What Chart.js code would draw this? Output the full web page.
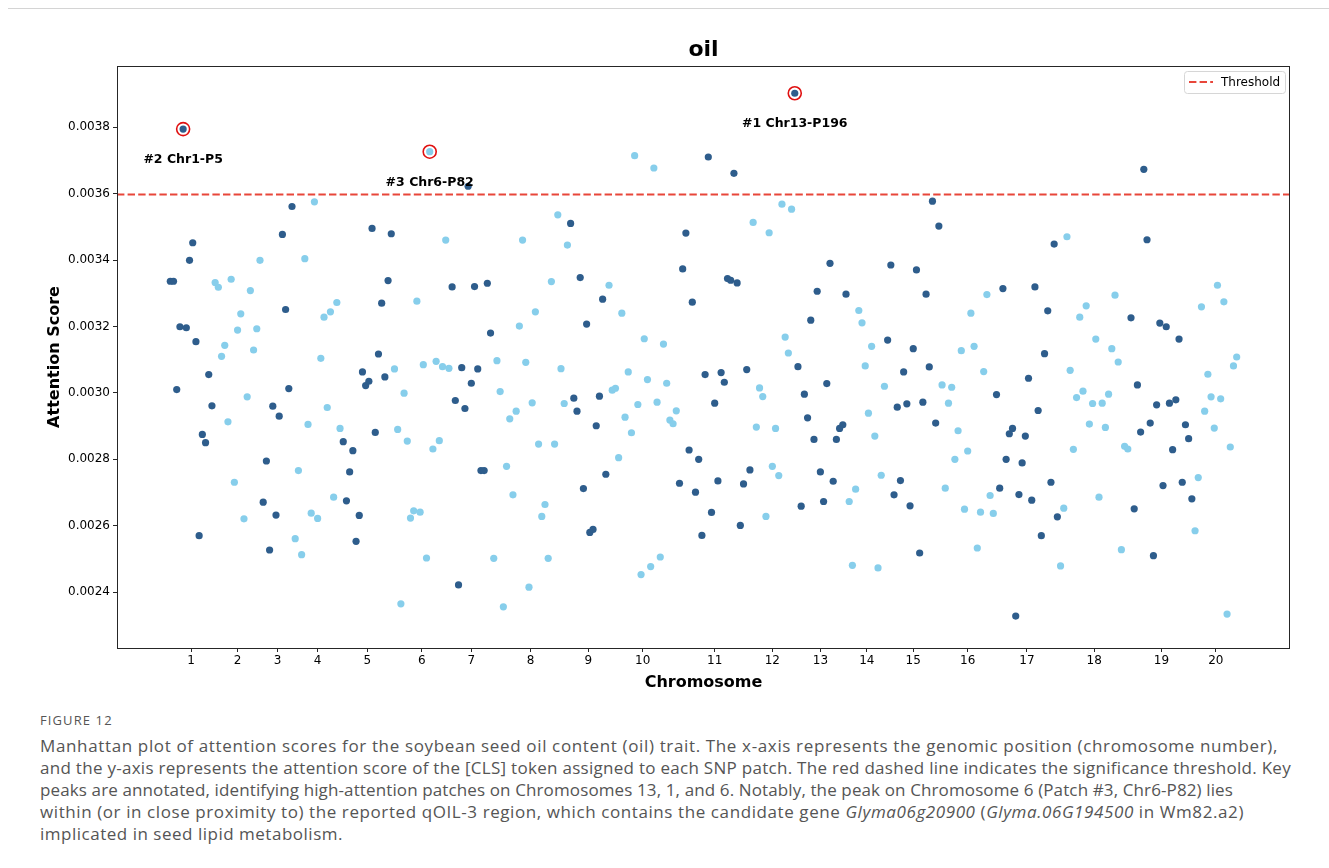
<!DOCTYPE html>
<html><head><meta charset="utf-8">
<script src="https://cdn.jsdelivr.net/npm/chart.js@4.4.1/dist/chart.umd.min.js"></script>
<style>
html,body{margin:0;padding:0;background:#fff;}
body{width:1329px;height:868px;position:relative;overflow:hidden;font-family:"DejaVu Sans",sans-serif;}
#topline{position:absolute;left:8px;right:0;top:8px;height:0;border-top:1px solid #d4d4d4;}
#wrap{position:absolute;left:0;top:0;width:1329px;height:700px;}
#cap{position:absolute;left:40px;top:711px;color:#555;font-family:"Open Sans",sans-serif;}
#fig{font-size:13px;letter-spacing:1.1px;line-height:18px;margin-bottom:6px;}
.ln{display:block;width:max-content;font-size:17px;line-height:22px;white-space:nowrap;}
</style></head>
<body>
<div id="topline"></div>
<div id="wrap"><canvas id="c" width="1329" height="700"></canvas></div>
<div id="cap">
<div id="fig">FIGURE 12</div>
<span class="ln">Manhattan plot of attention scores for the soybean seed oil content (oil) trait. The x-axis represents the genomic position (chromosome number),</span>
<span class="ln">and the y-axis represents the attention score of the [CLS] token assigned to each SNP patch. The red dashed line indicates the significance threshold. Key</span>
<span class="ln">peaks are annotated, identifying high-attention patches on Chromosomes 13, 1, and 6. Notably, the peak on Chromosome 6 (Patch #3, Chr6-P82) lies</span>
<span class="ln">within (or in close proximity to) the reported qOIL-3 region, which contains the candidate gene <i>Glyma06g20900</i> (<i>Glyma.06G194500</i> in Wm82.a2)</span>
<span class="ln">implicated in seed lipid metabolism.</span>
</div>
<script>
// ---- data ----
const chromLabels = ['1','2','3','4','5','6','7','8','9','10','11','12','13','14','15','16','17','18','19','20'];
const chr1 = [0.003336,0.003336,0.003010,0.003199,0.003794,0.003196,0.003399,0.003452,0.003154,0.002570,0.002875,0.002850,0.003055,0.002961];
const chr2 = [0.003332,0.003318,0.003110,0.003143,0.002913,0.003342,0.002731,0.003189,0.003238,0.002621,0.002988,0.003308,0.003129,0.003193,0.003399];
const chr3 = [0.002671,0.002795,0.002527,0.002960,0.002632,0.002930,0.003477,0.003251,0.003013,0.003561];
const chr4 = [0.002561,0.002766,0.002513,0.003404,0.002905,0.002638,0.003575,0.002622,0.003104,0.003228,0.002956,0.003244,0.002686,0.003272,0.002893];
const chr5 = [0.002853,0.002675,0.002762,0.002826,0.002553,0.002631,0.003063,0.003022,0.003035,0.003495,0.002881,0.003117,0.003270,0.003048,0.003338,0.003479];
const chr6 = [0.003072,0.002890,0.002365,0.002999,0.002855,0.002623,0.002645,0.003276,0.002641,0.003085,0.002503,0.003726,0.002831,0.003095,0.002856,0.003079,0.003460,0.003074];
const chr7 = [0.003319,0.002977,0.002422,0.003076,0.002953,0.003622,0.003029,0.003320,0.003072,0.002766,0.002766,0.003330,0.003180];
const chr8 = [0.002502,0.003097,0.003004,0.002356,0.002779,0.002922,0.002693,0.002945,0.003201,0.003460,0.003092,0.002415,0.002970,0.003244,0.002846,0.002628,0.002664,0.002502,0.003335,0.002846,0.003536,0.003073,0.002968,0.003445];
const chr9 = [0.003510,0.002984,0.002945,0.003347,0.002712,0.003207,0.002580,0.002589,0.002901,0.002990,0.003282,0.002755];
const chr10 = [0.003324,0.003008,0.003014,0.002805,0.003240,0.002927,0.003063,0.002880,0.003714,0.002965,0.002453,0.003163,0.003040,0.002477,0.003677,0.002972,0.002506,0.003147,0.003029,0.002918,0.002907,0.002946];
const chr11 = [0.002728,0.003373,0.003481,0.002828,0.003273,0.002701,0.002800,0.002571,0.003055,0.003710,0.002640,0.002969,0.002735,0.003061,0.003032,0.003344,0.003339,0.003661,0.003331,0.002601,0.002726,0.003070,0.002768];
const chr12 = [0.003513,0.002897,0.003015,0.002989,0.002628,0.003482,0.002779,0.002893,0.002751,0.003568,0.003168,0.003120,0.003553];
const chr13 = [0.003902,0.003079,0.002659,0.002996,0.002925,0.003219,0.002860,0.003306,0.002762,0.002673,0.003028,0.003390,0.002734,0.002860,0.002893,0.002904,0.003297];
const chr14 = [0.002673,0.002481,0.002710,0.003248,0.003211,0.003081,0.002939,0.003140,0.002870,0.002473,0.002752,0.003020];
const chr15 = [0.003159,0.003385,0.002693,0.002957,0.002736,0.003063,0.002967,0.002660,0.003133,0.003370,0.002518,0.002972,0.003297,0.003078,0.003577,0.002909,0.003502];
const chr16 = [0.003024,0.002713,0.002969,0.003017,0.002800,0.002886,0.003127,0.002650,0.002825,0.003240,0.003140,0.002533,0.002641,0.003064,0.003296,0.002691,0.002637];
const chr17 = [0.002995,0.002713,0.003314,0.002800,0.002877,0.002893,0.002328,0.002694,0.002789,0.002870,0.003044,0.002677,0.003319,0.002947,0.002570,0.003118,0.003247,0.002731,0.003448,0.002627];
const chr18 = [0.002479,0.002653,0.003470,0.003068,0.002830,0.002986,0.003228,0.003005,0.003262,0.002906,0.002968,0.003162,0.002686,0.002969,0.002896,0.002996,0.003133,0.003294,0.003093,0.002528,0.002839,0.002831];
const chr19 = [0.003226,0.002651,0.003024,0.002882,0.003673,0.003461,0.002909,0.002510,0.002964,0.003210,0.002721,0.003199,0.002969,0.002829,0.002979,0.003162,0.002731,0.002904,0.002862,0.002681];
const chr20 = [0.002585,0.002745,0.003259,0.002945,0.003056,0.002988,0.002894,0.003324,0.002982,0.003274,0.002334,0.002837,0.003081,0.003108];
const chromValues = [chr1,chr2,chr3,chr4,chr5,chr6,chr7,chr8,chr9,chr10,chr11,chr12,chr13,chr14,chr15,chr16,chr17,chr18,chr19,chr20];
const threshold = 0.003597;
const yTickValues = [0.0024,0.0026,0.0028,0.0030,0.0032,0.0034,0.0036,0.0038];
const yTickLabels = ['0.0024','0.0026','0.0028','0.0030','0.0032','0.0034','0.0036','0.0038'];
const highlightIdx = [195,4,81];
const highlightLabels = ['#1 Chr13-P196','#2 Chr1-P5','#3 Chr6-P82'];
const titleText = 'oil';
const xTitle = 'Chromosome';
const yTitle = 'Attention Score';
const legendLabel = 'Threshold';

// ---- caption line widths (layout) ----
const capTargets = [1238, 1251, 1193, 1204, 303];
document.querySelectorAll('.ln').forEach((el, i) => {
  el.style.letterSpacing = '0px';
  const w = el.getBoundingClientRect().width;
  const n = el.textContent.length;
  el.style.letterSpacing = ((capTargets[i] - w) / n) + 'px';
});

// ---- build ----
const DARK = '#2e5d8c', LIGHT = '#87ceeb', RED = '#e8463a';
const darkPts = [], lightPts = [], centers = [];
let k = 0;
chromValues.forEach((arr, c) => {
  const start = k;
  arr.forEach(v => { (c % 2 === 0 ? darkPts : lightPts).push({x: k, y: v}); k++; });
  centers.push(start + (arr.length - 1) / 2);
});
const allVals = chromValues.flat();
const hiPts = highlightIdx.map(i => ({x: i, y: allVals[i]}));
const xMin = -0.05 * (k - 1), xMax = (k - 1) * 1.05;

const FONT = '"DejaVu Sans", sans-serif';

const decor = {
  id: 'decor',
  afterDatasetsDraw(chart) {
    const {ctx, chartArea: a, scales: {x, y}} = chart;
    ctx.save();
    ctx.strokeStyle = '#262626'; ctx.lineWidth = 1;
    ctx.strokeRect(Math.round(a.left) + 0.5, Math.round(a.top) + 0.5, Math.round(a.right - a.left) - 1, Math.round(a.bottom - a.top));
    ctx.fillStyle = '#000';
    ctx.font = 'bold 12.5px ' + FONT;
    ctx.textAlign = 'center'; ctx.textBaseline = 'middle';
    hiPts.forEach((p, i) => {
      ctx.fillText(highlightLabels[i], x.getPixelForValue(p.x), y.getPixelForValue(p.y) + 31);
    });
    ctx.font = 'bold 22px ' + FONT;
    ctx.fillText(titleText, (a.left + a.right) / 2, 50);
    const bw = 101, bh = 22, bx = a.right - 5 - bw, by = a.top + 5;
    ctx.beginPath();
    ctx.roundRect(bx + 0.5, by + 0.5, bw, bh, 3);
    ctx.fillStyle = 'rgba(255,255,255,0.85)'; ctx.fill();
    ctx.strokeStyle = '#d6d6d6'; ctx.stroke();
    ctx.beginPath();
    ctx.setLineDash([7.4, 3.2]);
    ctx.strokeStyle = RED; ctx.lineWidth = 2;
    ctx.moveTo(bx + 5, by + 11); ctx.lineTo(bx + 29, by + 11); ctx.stroke();
    ctx.setLineDash([]);
    ctx.fillStyle = '#000'; ctx.font = '12px ' + FONT;
    ctx.textAlign = 'left';
    ctx.fillText(legendLabel, bx + 37, by + 11.5);
    ctx.restore();
  }
};

new Chart(document.getElementById('c'), {
  type: 'scatter',
  data: {
    datasets: [
      { label: 'top', data: hiPts, pointRadius: 6.5, pointBorderWidth: 1.6, borderColor: '#e01010', backgroundColor: 'rgba(0,0,0,0)' },
      { label: legendLabel, data: [{x: xMin, y: threshold}, {x: xMax, y: threshold}], showLine: true, borderColor: RED, borderWidth: 2, borderDash: [7.4, 3.2], pointRadius: 0 },
      { label: 'odd', data: darkPts, pointRadius: 3.6, backgroundColor: DARK, borderWidth: 0 },
      { label: 'even', data: lightPts, pointRadius: 3.6, backgroundColor: LIGHT, borderWidth: 0 }
    ]
  },
  options: {
    responsive: false,
    animation: false,
    events: [],
    layout: { padding: { top: 66, right: 39, left: 0, bottom: 0 } },
    plugins: { legend: { display: false }, tooltip: { enabled: false }, title: { display: false } },
    scales: {
      x: {
        type: 'linear', min: xMin, max: xMax,
        afterFit(s) { s.height = 52; },
        afterBuildTicks(s) { s.ticks = centers.map(v => ({value: v})); },
        ticks: { autoSkip: false, maxRotation: 0, padding: 2, color: '#000', font: { size: 12, family: FONT },
                 callback: (v, i) => chromLabels[i] },
        grid: { display: true, drawOnChartArea: false, drawTicks: true, tickLength: 4, color: '#262626', tickColor: '#262626' },
        border: { display: false },
        title: { display: true, text: xTitle, color: '#000', font: { size: 16, weight: 'bold', family: FONT }, padding: { top: 0, bottom: 7.4 } }
      },
      y: {
        type: 'linear', min: 0.002232, max: 0.003984,
        afterFit(s) { s.width = 117; },
        afterBuildTicks(s) { s.ticks = yTickValues.map(v => ({value: v})); },
        ticks: { autoSkip: false, padding: 3, color: '#000', font: { size: 12, family: FONT },
                 callback: (v, i) => yTickLabels[i] },
        grid: { display: true, drawOnChartArea: false, drawTicks: true, tickLength: 4, color: '#262626', tickColor: '#262626' },
        border: { display: false },
        title: { display: true, text: yTitle, color: '#000', font: { size: 16, weight: 'bold', family: FONT }, padding: { top: 45.4, bottom: 0 } }
      }
    }
  },
  plugins: [decor]
});
</script>
</body></html>
